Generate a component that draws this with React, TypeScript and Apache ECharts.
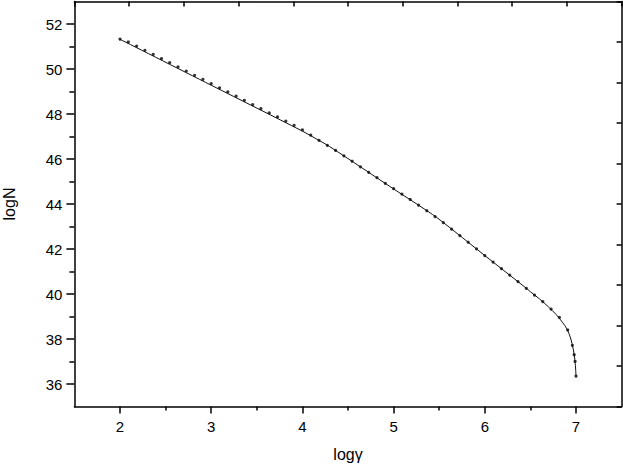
import React, { useEffect, useRef } from "react";
import * as echarts from "echarts";

const xMajor = [2, 3, 4, 5, 6, 7];
const xMinor = [2.5, 3.5, 4.5, 5.5, 6.5];
const yMajor = [36, 38, 40, 42, 44, 46, 48, 50, 52];
const yMinor = [37, 39, 41, 43, 45, 47, 49, 51];

const lineX = [2, 3, 4, 4.15, 4.3, 5, 5.344, 5.509, 6, 6.466, 6.5, 6.6, 6.7, 6.78, 6.85, 6.9, 6.94, 6.97, 6.99, 7.0];
const lineY = [51.32, 49.28, 47.24, 46.9, 46.55, 44.67, 43.76, 43.29, 41.71, 40.22, 40.1, 39.78, 39.42, 39.1, 38.75, 38.45, 38.05, 37.55, 37.0, 36.35];

const dotX = [
  2.0, 2.091, 2.182, 2.273, 2.364, 2.455, 2.545, 2.636, 2.727, 2.818, 2.909,
  3.0, 3.091, 3.182, 3.273, 3.364, 3.455, 3.545, 3.636, 3.727, 3.818, 3.909,
  4.0, 4.091, 4.182, 4.273, 4.364, 4.455, 4.545, 4.636, 4.727, 4.818, 4.909,
  5.0, 5.091, 5.182, 5.273, 5.364, 5.455, 5.545, 5.636, 5.727, 5.818, 5.909,
  6.0, 6.091, 6.182, 6.273, 6.364, 6.455, 6.545, 6.636, 6.727, 6.818, 6.909,
  6.96, 6.98, 6.99, 7.0,
];
const dotY = [
  51.33, 51.2, 51.02, 50.83, 50.65, 50.46, 50.28, 50.09, 49.91, 49.72, 49.54,
  49.35, 49.16, 48.98, 48.79, 48.61, 48.42, 48.24, 48.05, 47.87, 47.68, 47.49,
  47.29, 47.06, 46.83, 46.61, 46.38, 46.14, 45.9, 45.65, 45.41, 45.17, 44.92,
  44.68, 44.44, 44.2, 43.95, 43.7, 43.44, 43.17, 42.88, 42.59, 42.3, 42.01,
  41.71, 41.42, 41.13, 40.84, 40.55, 40.25, 39.95, 39.66, 39.33, 38.96, 38.4,
  37.72, 37.3, 37.0, 36.35,
];

const FONT = "'Liberation Sans', Arial, Helvetica, sans-serif";

export default function App() {
  const ref = useRef<HTMLDivElement>(null);
  useEffect(() => {
    if (!ref.current) return;
    const chart = echarts.init(ref.current, null, { renderer: "svg" });
    const grid = { left: 74.4, right: 1.4, top: 1.5, bottom: 63.5, containLabel: false, outerBoundsMode: "none" };
    const axisLine = { show: true, lineStyle: { color: "#000", width: 1.5 } };
    chart.setOption({
      animation: false,
      backgroundColor: "#fff",
      grid: [grid, { ...grid }],
      xAxis: [
        {
          type: "value",
          gridIndex: 0,
          position: "bottom",
          min: 1.5,
          max: 7.5,
          axisLine,
          splitLine: { show: false },
          axisTick: { show: true, inside: false, length: 7, customValues: xMajor, lineStyle: { color: "#000", width: 1.5 } },
          axisLabel: { show: true, customValues: xMajor, margin: 12, color: "#000", fontSize: 15, fontFamily: FONT },
          name: "logγ",
          nameLocation: "middle",
          nameGap: 40,
          nameTextStyle: { color: "#000", fontSize: 16, fontFamily: FONT },
        },
        {
          type: "value",
          gridIndex: 0,
          position: "top",
          min: 0,
          max: 10,
          interval: 1,
          axisLine,
          splitLine: { show: false },
          axisTick: { show: true, inside: true, length: 5, lineStyle: { color: "#000", width: 1.5 } },
          axisLabel: { show: false },
        },
        {
          type: "value",
          gridIndex: 1,
          position: "bottom",
          min: 1.5,
          max: 7.5,
          axisLine: { show: false },
          splitLine: { show: false },
          axisTick: { show: true, inside: false, length: 4, customValues: xMinor, lineStyle: { color: "#000", width: 1.5 } },
          axisLabel: { show: false },
        },
      ],
      yAxis: [
        {
          type: "value",
          gridIndex: 0,
          position: "left",
          min: 35,
          max: 53,
          axisLine,
          splitLine: { show: false },
          axisTick: { show: true, inside: false, length: 8, customValues: yMajor, lineStyle: { color: "#000", width: 1.5 } },
          axisLabel: { show: true, customValues: yMajor, margin: 12, color: "#000", fontSize: 15, fontFamily: FONT },
          name: "logN",
          nameLocation: "middle",
          nameRotate: 90,
          nameGap: 57,
          nameTextStyle: { color: "#000", fontSize: 16, fontFamily: FONT },
        },
        {
          type: "value",
          gridIndex: 0,
          position: "right",
          min: 0,
          max: 10,
          interval: 1,
          axisLine,
          splitLine: { show: false },
          axisTick: { show: true, inside: true, length: 5, lineStyle: { color: "#000", width: 1.5 } },
          axisLabel: { show: false },
        },
        {
          type: "value",
          gridIndex: 1,
          position: "left",
          min: 35,
          max: 53,
          axisLine: { show: false },
          splitLine: { show: false },
          axisTick: { show: true, inside: false, length: 5, customValues: yMinor, lineStyle: { color: "#000", width: 1.5 } },
          axisLabel: { show: false },
        },
      ],
      series: [
        {
          type: "line",
          xAxisIndex: 0,
          yAxisIndex: 0,
          data: lineX.map((x, i) => [x, lineY[i]]),
          showSymbol: false,
          symbol: "none",
          smooth: 0.3,
          lineStyle: { color: "#111", width: 1 },
          silent: true,
        },
        {
          type: "scatter",
          xAxisIndex: 0,
          yAxisIndex: 0,
          data: dotX.map((x, i) => [x, dotY[i]]),
          symbol: "circle",
          symbolSize: 3.2,
          itemStyle: { color: "#000" },
          silent: true,
        },
      ],
    });
    return () => chart.dispose();
  }, []);
  return <div ref={ref} style={{ width: 623, height: 470, position: "absolute", left: 0, top: 0 }} />;
}
